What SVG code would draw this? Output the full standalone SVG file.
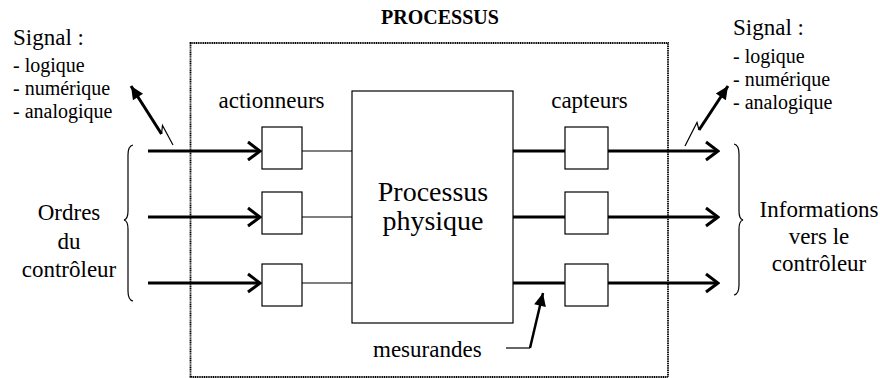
<svg xmlns="http://www.w3.org/2000/svg" width="880" height="378" viewBox="0 0 880 378" font-family="'Liberation Serif', 'Times New Roman', 'DejaVu Serif', serif">
<style>
text{font-family:'Liberation Serif','Times New Roman','DejaVu Serif',serif;fill:#000}
.lbl{font-size:23px}
.sm{font-size:20px}
.box{fill:#fff;stroke:#000;stroke-width:1.2}
.thin{stroke:#000;stroke-width:1.2;fill:none}
.thick{stroke:#000;stroke-width:3;fill:none}
</style>
<defs>
<marker id="open" markerUnits="userSpaceOnUse" viewBox="-14 -11 16 22" refX="0" refY="0" markerWidth="16" markerHeight="22" orient="auto">
<path d="M-12,-9 L0,0 L-12,9" fill="none" stroke="#000" stroke-width="3"/>
</marker>
<marker id="solid" markerUnits="userSpaceOnUse" viewBox="-14 -8 16 16" refX="0" refY="0" markerWidth="16" markerHeight="16" orient="auto">
<path d="M-13,-6 L0,0 L-13,6 Z" fill="#000"/>
</marker>
</defs>
<rect x="0" y="0" width="880" height="378" fill="#fff"/>
<g id="processus">
<rect x="190.5" y="43" width="477.5" height="334" fill="none" stroke="#000" stroke-width="1.8" stroke-dasharray="1.2,0.6"/>
<text x="440" y="24" text-anchor="middle" font-family="Liberation Serif, serif" style="font-size:20px;font-weight:bold">PROCESSUS</text>
</g>
<g id="processus-physique">
<rect class="box" x="352" y="91" width="161" height="232"/>
<text font-family="Liberation Serif, serif" x="433" y="201" text-anchor="middle" style="font-size:28px">Processus</text>
<text font-family="Liberation Serif, serif" x="433" y="230" text-anchor="middle" style="font-size:28px">physique</text>
</g>
<g id="actionneurs">
<text font-family="Liberation Serif, serif" class="lbl" x="271.5" y="108" text-anchor="middle">actionneurs</text>
<rect class="box" x="262" y="127" width="40" height="42"/>
<rect class="box" x="262" y="192" width="40" height="42"/>
<rect class="box" x="262" y="264" width="40" height="42"/>
</g>
<g id="capteurs">
<text font-family="Liberation Serif, serif" class="lbl" x="589.5" y="108" text-anchor="middle">capteurs</text>
<rect class="box" x="565" y="127" width="43" height="42"/>
<rect class="box" x="565" y="192" width="43" height="42"/>
<rect class="box" x="565" y="264" width="43" height="42"/>
</g>
<g id="signal-gauche" font-family="Liberation Serif, serif">
<text x="13" y="45" style="font-size:23px">Signal :</text>
<text class="sm" x="13" y="72">- logique</text>
<text class="sm" x="13" y="95">- numérique</text>
<text class="sm" x="13" y="118">- analogique</text>
</g>
<g id="signal-droite" font-family="Liberation Serif, serif">
<text x="733" y="35" style="font-size:23px">Signal :</text>
<text class="sm" x="733" y="63">- logique</text>
<text class="sm" x="733" y="86">- numérique</text>
<text class="sm" x="733" y="109">- analogique</text>
</g>
<g id="ordres" font-family="Liberation Serif, serif">
<text class="lbl" x="69" y="220" text-anchor="middle">Ordres</text>
<text class="lbl" x="69" y="249" text-anchor="middle">du</text>
<text class="lbl" x="69" y="277" text-anchor="middle">contrôleur</text>
</g>
<g id="informations" font-family="Liberation Serif, serif">
<text class="lbl" x="819" y="217" text-anchor="middle">Informations</text>
<text class="lbl" x="819" y="244" text-anchor="middle">vers le</text>
<text class="lbl" x="819" y="271" text-anchor="middle">contrôleur</text>
</g>
<g id="mesurandes" font-family="Liberation Serif, serif">
<text class="lbl" x="373" y="357">mesurandes</text>
</g>
<g id="connectors">
<line class="thick" x1="148" y1="151" x2="260" y2="151" marker-end="url(#open)"/>
<line class="thick" x1="148" y1="217" x2="260" y2="217" marker-end="url(#open)"/>
<line class="thick" x1="148" y1="283" x2="260" y2="283" marker-end="url(#open)"/>
<line class="thin" x1="302" y1="151" x2="352" y2="151"/>
<line class="thin" x1="302" y1="217" x2="352" y2="217"/>
<line class="thin" x1="302" y1="283" x2="352" y2="283"/>
<line class="thick" x1="513" y1="151" x2="565" y2="151"/>
<line class="thick" x1="513" y1="217" x2="565" y2="217"/>
<line class="thick" x1="513" y1="283" x2="565" y2="283"/>
<line class="thick" x1="608" y1="151" x2="718" y2="151" marker-end="url(#open)"/>
<line class="thick" x1="608" y1="217" x2="718" y2="217" marker-end="url(#open)"/>
<line class="thick" x1="608" y1="283" x2="718" y2="283" marker-end="url(#open)"/>
<path class="thin" d="M173,145 L162.5,125.5 L161.5,134"/>
<line class="thick" x1="161.5" y1="134" x2="131" y2="86" marker-end="url(#solid)"/>
<path class="thin" d="M685,146 L697,122.5 L699,130"/>
<line class="thick" x1="699" y1="130" x2="728" y2="86" marker-end="url(#solid)"/>
<path class="thin" d="M506,348 L530,348"/>
<line x1="530" y1="348" x2="543" y2="293" stroke="#000" stroke-width="2.5" marker-end="url(#solid)"/>
<path class="thin" d="M133,145 Q128,146 128,155 L128,211 Q128,219 124,220 Q128,221 128,229 L128,291 Q128,300 133,301"/>
<path class="thin" d="M734,144 Q739,145 739,154 L739,211 Q739,219 743,220 Q739,221 739,229 L739,285 Q739,294 734,295"/>
</g>
</svg>
